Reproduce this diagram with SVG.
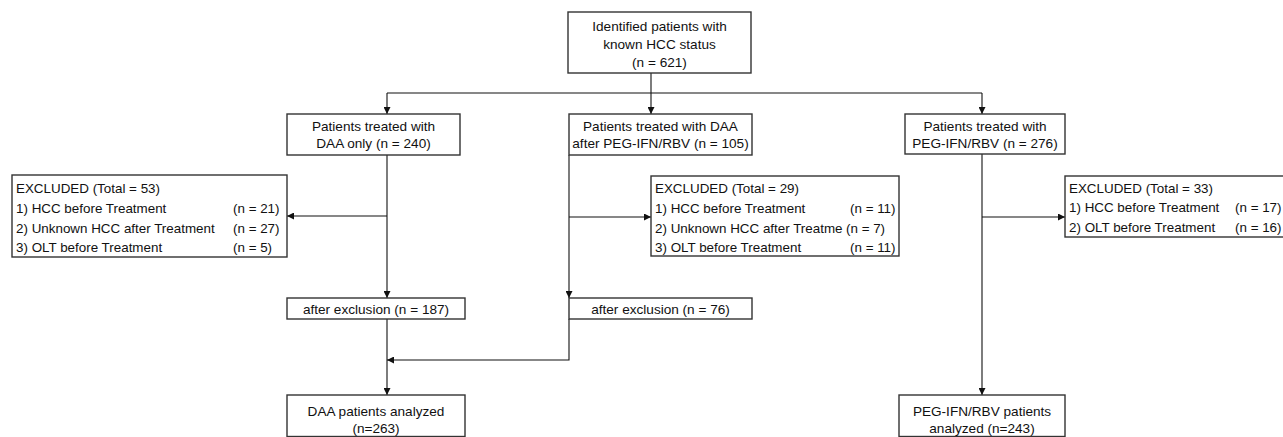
<svg xmlns="http://www.w3.org/2000/svg" width="1283" height="437" viewBox="0 0 1283 437">
<defs>
<style>
.box{fill:#fff;stroke:#333;stroke-width:1.4}
.t{font-family:"Liberation Sans",Arial,sans-serif;font-size:13.6px;fill:#111;text-anchor:middle}
.e{font-family:"Liberation Sans",Arial,sans-serif;font-size:13.4px;fill:#111}
.ln{fill:none;stroke:#111;stroke-width:1.1}
</style>
<marker id="ah" viewBox="0 0 10 10" refX="10" refY="5" markerWidth="7" markerHeight="7" markerUnits="userSpaceOnUse" orient="auto">
<path d="M0,0 L10,5 L0,10 z" fill="#111"/>
</marker>
<clipPath id="clipMid"><rect x="651" y="215" width="193" height="22"/></clipPath>
</defs>
<rect width="1283" height="437" fill="#fff"/>

<g id="connectors">
<path class="ln" d="M651,73 V114" marker-end="url(#ah)"/>
<path class="ln" d="M387,93 H982"/>
<path class="ln" d="M387,93 V114" marker-end="url(#ah)"/>
<path class="ln" d="M982,93 V114" marker-end="url(#ah)"/>
<path class="ln" d="M387,155 V298" marker-end="url(#ah)"/>
<path class="ln" d="M387,216 H287" marker-end="url(#ah)"/>
<path class="ln" d="M569,155 V298" marker-end="url(#ah)"/>
<path class="ln" d="M569,217 H651" marker-end="url(#ah)"/>
<path class="ln" d="M982,154 V395" marker-end="url(#ah)"/>
<path class="ln" d="M982,217 H1065" marker-end="url(#ah)"/>
<path class="ln" d="M387,319 V395" marker-end="url(#ah)"/>
<path class="ln" d="M569,319 V360 H387" marker-end="url(#ah)"/>
</g>

<g id="n_identified">
<rect class="box" x="568" y="12" width="183" height="61"/>
<text class="t" x="659.5" y="31">Identified patients with</text>
<text class="t" x="659.5" y="49">known HCC status</text>
<text class="t" x="659.5" y="67">(n = 621)</text>
</g>

<g id="n_daa_only">
<rect class="box" x="287" y="114" width="173" height="41"/>
<text class="t" x="373.5" y="131">Patients treated with</text>
<text class="t" x="373.5" y="148">DAA only  (n = 240)</text>
</g>

<g id="n_daa_after">
<rect class="box" x="569" y="114" width="183" height="41"/>
<text class="t" x="660.5" y="131">Patients treated with DAA</text>
<text class="t" x="660.5" y="148">after PEG-IFN/RBV (n = 105)</text>
</g>

<g id="n_peg">
<rect class="box" x="905" y="114" width="160" height="40"/>
<text class="t" x="985" y="131">Patients treated with</text>
<text class="t" x="985" y="148">PEG-IFN/RBV (n = 276)</text>
</g>

<g id="n_excl1">
<rect class="box" x="12" y="175" width="275" height="82"/>
<text class="e" x="16" y="193">EXCLUDED (Total = 53)</text>
<text class="e" x="16" y="213">1) HCC before Treatment</text>
<text class="e" x="233" y="213">(n = 21)</text>
<text class="e" x="16" y="233">2) Unknown HCC after Treatment</text>
<text class="e" x="233" y="233">(n = 27)</text>
<text class="e" x="16" y="252">3) OLT before Treatment</text>
<text class="e" x="233" y="252">(n = 5)</text>
</g>

<g id="n_excl2">
<rect class="box" x="651" y="176" width="248" height="80"/>
<text class="e" x="655" y="193">EXCLUDED (Total = 29)</text>
<text class="e" x="655" y="213">1) HCC before Treatment</text>
<text class="e" x="850" y="213">(n = 11)</text>
<text class="e" x="655" y="233" clip-path="url(#clipMid)">2) Unknown HCC after Treatme</text>
<text class="e" x="846" y="233">(n = 7)</text>
<text class="e" x="655" y="252">3) OLT before Treatment</text>
<text class="e" x="850" y="252">(n = 11)</text>
</g>

<g id="n_excl3">
<rect class="box" x="1065" y="176" width="220" height="61"/>
<text class="e" x="1069" y="193">EXCLUDED (Total = 33)</text>
<text class="e" x="1069" y="212">1) HCC before Treatment</text>
<text class="e" x="1235" y="212">(n = 17)</text>
<text class="e" x="1069" y="232">2) OLT before Treatment</text>
<text class="e" x="1235" y="232">(n = 16)</text>
</g>

<g id="n_after187">
<rect class="box" x="287" y="298" width="178" height="21"/>
<text class="t" x="376" y="314">after exclusion (n = 187)</text>
</g>

<g id="n_after76">
<rect class="box" x="569" y="298" width="183" height="21"/>
<text class="t" x="660.5" y="314">after exclusion (n = 76)</text>
</g>

<g id="n_daa_analyzed">
<rect class="box" x="287" y="395" width="178" height="41.5"/>
<text class="t" x="376" y="416">DAA patients analyzed</text>
<text class="t" x="376" y="433">(n=263)</text>
</g>

<g id="n_peg_analyzed">
<rect class="box" x="899" y="395" width="166" height="41.5"/>
<text class="t" x="982" y="416">PEG-IFN/RBV patients</text>
<text class="t" x="982" y="433">analyzed (n=243)</text>
</g>
</svg>
